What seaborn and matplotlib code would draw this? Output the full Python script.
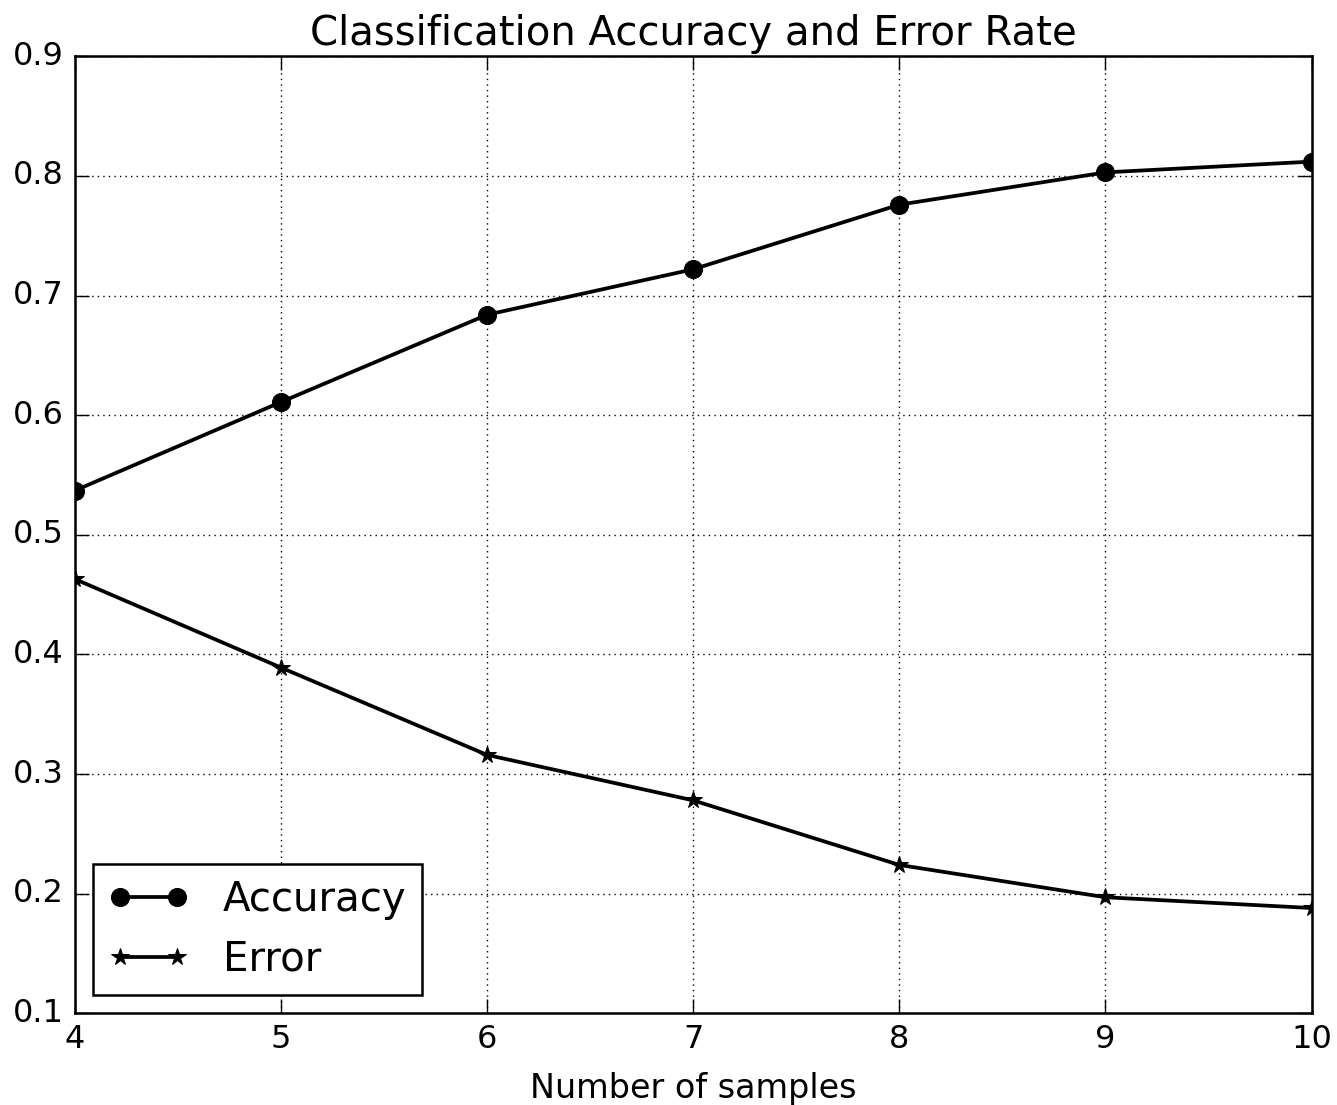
import pandas as pd
import matplotlib
matplotlib.use("Agg")
import matplotlib.pyplot as plt
import seaborn as sns

# values
samples = [4, 5, 6, 7, 8, 9, 10]
accuracy = [0.537, 0.611, 0.684, 0.722, 0.776, 0.803, 0.812]
error = [0.463, 0.389, 0.316, 0.278, 0.224, 0.197, 0.188]

data = pd.DataFrame({
    'samples': samples * 2,
    'value': accuracy + error,
    'metric': ['Accuracy'] * len(samples) + ['Error'] * len(samples),
})

plt.style.use('classic')
plt.rcParams['font.family'] = ['DejaVu Sans']

fig = plt.figure(figsize=(13.37, 11.05), dpi=100, facecolor='white')
ax = fig.add_axes([0.056, 0.083, 0.925, 0.866])

sns.lineplot(data=data, x='samples', y='value', style='metric',
             markers={'Accuracy': 'o', 'Error': '*'},
             dashes=False, color='black', linewidth=2.7,
             markersize=13, markeredgecolor='black', ax=ax)

ax.set_xlim(4, 10)
ax.set_ylim(0.1, 0.9)
ax.set_xticks(range(4, 11))
ax.grid(True, linestyle=':', color='black', linewidth=1)
ax.tick_params(direction='in', length=10, width=1, labelsize=23, top=True, right=True, pad=8)
for s in ax.spines.values():
    s.set_linewidth(1.8)

ax.set_title('Classification Accuracy and Error Rate', fontsize=29, pad=8)
ax.set_xlabel('Number of samples', fontsize=24, labelpad=12)
ax.set_ylabel('')

leg = ax.legend(loc='lower left', fontsize=29, numpoints=2, handlelength=2.0,
                frameon=True, fancybox=False, borderaxespad=0.45,
                borderpad=0.38, labelspacing=0.5, handletextpad=0.85)
leg.get_frame().set_edgecolor('black')
leg.get_frame().set_linewidth(1.8)

plt.savefig('out.png', dpi=100, facecolor='white')
